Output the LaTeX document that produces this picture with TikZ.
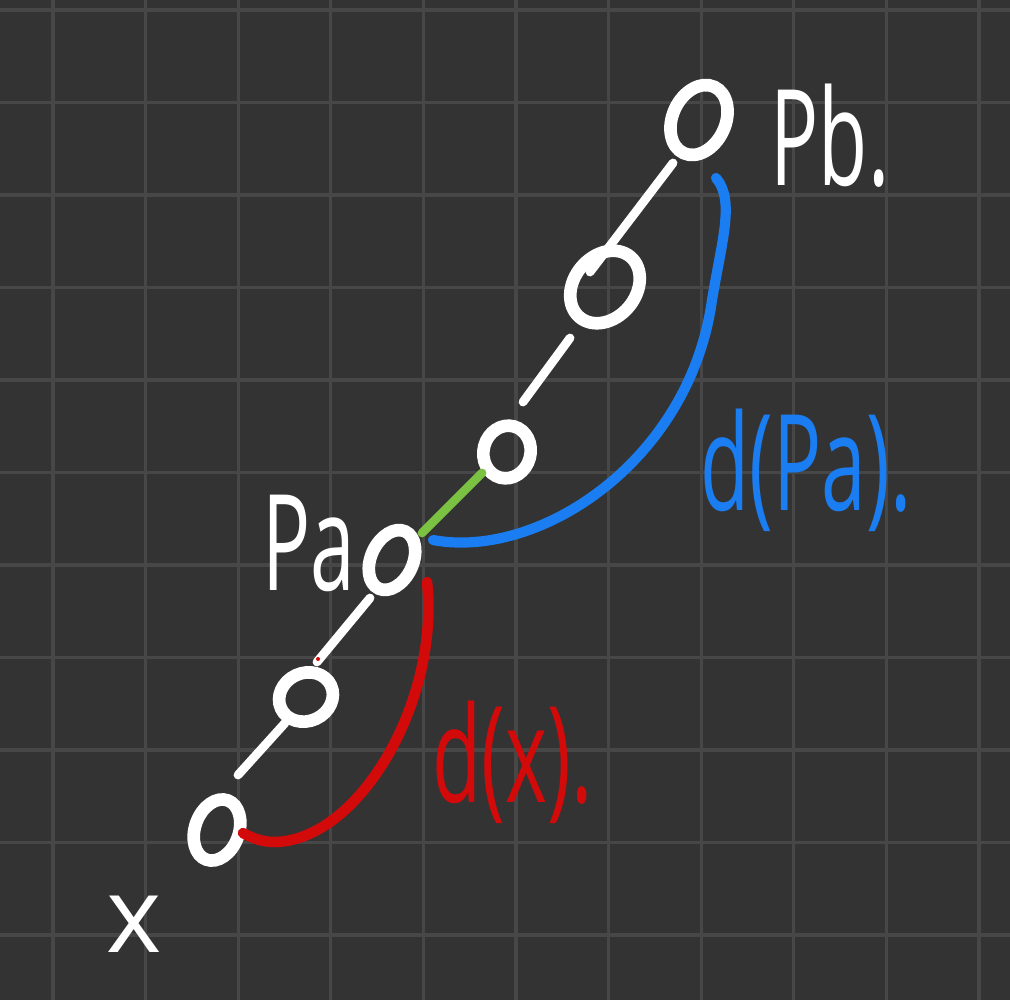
\documentclass[tikz,border=0pt]{standalone}
\usepackage{fontspec}
\setmainfont{Open Sans}
\usepackage{graphicx}
\usetikzlibrary{shapes.geometric}
\usetikzlibrary{calc}

\definecolor{board}{HTML}{333333}
\definecolor{gridgrey}{HTML}{474747}
\definecolor{inkblue}{HTML}{1A7DF2}
\definecolor{inkred}{HTML}{D20A0A}
\definecolor{inkgreen}{HTML}{7CC242}

\newcommand{\scrawl}[1]{\scalebox{0.6}[1]{#1}}

\begin{document}
\begin{tikzpicture}[
        x=0.01cm, y=-0.01cm,
        line cap=round,
        gridline/.style={gridgrey, line width=0.9pt, line cap=butt},
        beadnode/.style={ellipse, draw=white, line width=3.6pt, inner sep=0pt},
        link/.style={white, line width=2.5pt},
        greenlink/.style={inkgreen, line width=2.5pt},
        bluearc/.style={inkblue, line width=2.9pt},
        redarc/.style={inkred, line width=3pt},
        inknode/.style={inner sep=0pt, font=\fontsize{38pt}{42pt}\selectfont}
    ]

        \useasboundingbox (0,0) rectangle (1010,1000);
        \fill [board] (0,0) rectangle (1010,1000);

        % Grid
        \foreach \i in {0,...,10} {
            \draw [gridline] ({53+92.6*\i},0) -- ({53+92.6*\i},1000);
            \draw [gridline] (0,{10+92.5*\i}) -- (1010,{10+92.5*\i});
        }

        \node [beadnode, minimum width=0.44cm, minimum height=0.63cm, rotate=-20] (Bead0) at (217,830) {};
        \node [beadnode, minimum width=0.55cm, minimum height=0.48cm, rotate=25] (Bead1) at (306,697) {};
        \node [beadnode, minimum width=0.42cm, minimum height=0.63cm, rotate=-25] (Bead2) at (392,560) {};
        \node [beadnode, minimum width=0.47cm, minimum height=0.53cm, rotate=-15] (Bead3) at (507,452) {};
        \node [beadnode, minimum width=0.62cm, minimum height=0.79cm, rotate=-40] (Bead4) at (605,287) {};
        \node [beadnode, minimum width=0.53cm, minimum height=0.73cm, rotate=-25] (Bead5) at (699,120) {};

        % Links along the chain
        \draw [link] ($(Bead0)+(21,-55)$) -- ($(Bead1)+(-21,26)$);
        \draw [link] ($(Bead1)+(11,-35)$) -- ($(Bead2)+(-22,38)$);
        \draw [greenlink] ($(Bead2)+(30,-27)$) -- ($(Bead3)+(-25,21)$);
        \draw [link] ($(Bead3)+(16,-50)$) -- ($(Bead4)+(-35,51)$);
        \draw [link] ($(Bead4)+(-15,-15)$) -- ($(Bead5)+(-26,43)$);
        \fill [inkred] (318,659) circle (2);

        % Distance arcs
        \draw [bluearc] ($(Bead2)+(41,-20)$) .. controls (540,560) and (690,460) .. (712,300)
            .. controls (722,240) and (735,200) .. ($(Bead5)+(17,58)$);
        \draw [redarc] ($(Bead2)+(35,22)$) .. controls (440,700) and (360,840) .. (275,842)
            .. controls (262,842) and (252,838) .. ($(Bead0)+(26,3)$);

        \node [inknode, white, anchor=base west] (LabelPb) at (770,185) {\scrawl{Pb.}};
        \node [inknode, white, anchor=base west] (LabelPa) at (262,590) {\scrawl{Pa}};
        \node [inknode, white, anchor=base, font=\fontsize{30pt}{34pt}\selectfont] (LabelX) at (134,952) {x};
        \node [inknode, inkblue, anchor=base west] (LabelDPa) at (700,510) {\scrawl{d(Pa).}};
        \node [inknode, inkred, anchor=base west] (LabelDX) at (432,802) {\scrawl{d(x).}};

    \end{tikzpicture}
\end{document}
